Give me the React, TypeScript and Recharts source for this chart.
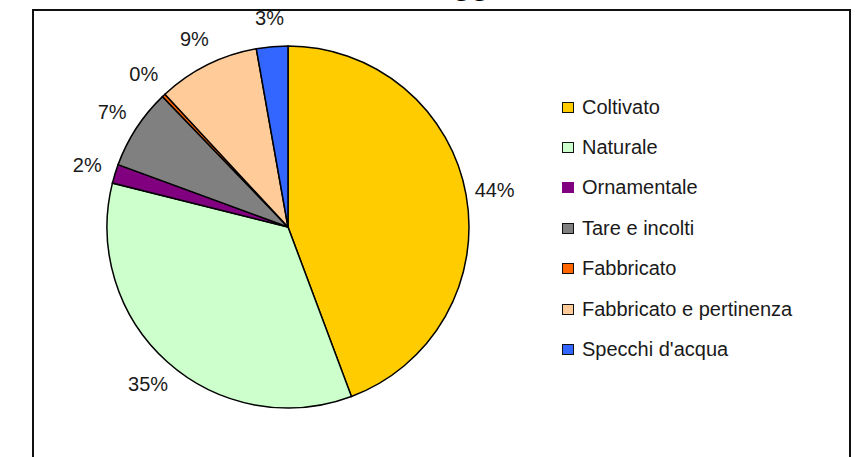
import { PieChart, Pie, Cell, Legend } from 'recharts';

const categories = [
  'Coltivato',
  'Naturale',
  'Ornamentale',
  'Tare e incolti',
  'Fabbricato',
  'Fabbricato e pertinenza',
  "Specchi d'acqua",
];
const shares = [44.3, 34.6, 1.7, 7.2, 0.3, 9.1, 2.8];
const colors = ['#FFCC00', '#CCFFCC', '#800080', '#808080', '#FF6600', '#FFCC99', '#3366FF'];
const title = 'Paesaggio';

const data = categories.map((name, i) => ({ name, value: shares[i] }));

const RAD = Math.PI / 180;
const FONT = '"Liberation Sans", Arial, sans-serif';

function renderLabel(props: any) {
  const { cx, cy, midAngle, outerRadius, percent } = props;
  const r = outerRadius + 29;
  const x = cx + r * Math.cos(-midAngle * RAD);
  const y = cy + r * Math.sin(-midAngle * RAD);
  return (
    <text x={x} y={y} textAnchor="middle" dominantBaseline="central" fontSize={20} fill="#1a1a1a" fontFamily={FONT}>
      {`${Math.round(percent * 100)}%`}
    </text>
  );
}

function LegendBox() {
  return (
    <div style={{ fontFamily: FONT, fontSize: 20, color: '#1a1a1a' }}>
      {categories.map((name, i) => (
        <div key={name} style={{ height: 40.4, display: 'flex', alignItems: 'center' }}>
          <span
            style={{
              display: 'inline-block',
              boxSizing: 'border-box',
              width: 12,
              height: 11,
              background: colors[i],
              border: i === 2 ? `1px solid ${colors[i]}` : '1.5px solid #111',
              marginRight: 8,
            }}
          />
          <span>{name}</span>
        </div>
      ))}
    </div>
  );
}

export default function App() {
  return (
    <div style={{ position: 'absolute', left: 0, top: 0, width: 864, height: 457, overflow: 'hidden', background: '#fff', fontFamily: FONT }}>
      <div
        style={{
          position: 'absolute',
          left: 0,
          top: -32,
          width: 882,
          textAlign: 'center',
          fontSize: 30,
          fontWeight: 'bold',
          color: '#000',
        }}
      >
        {title}
      </div>
      <div
        style={{
          position: 'absolute',
          left: 32,
          top: 9,
          width: 815,
          height: 500,
          border: '2.5px solid #111',
        }}
      />
      <div style={{ position: 'absolute', left: 0, top: 0 }}>
        <PieChart width={864} height={457} margin={{ top: 0, right: 0, bottom: 0, left: 0 }}>
          <Pie
            data={data}
            dataKey="value"
            nameKey="name"
            cx={288}
            cy={227}
            outerRadius={181}
            startAngle={90}
            endAngle={-270}
            stroke="#000"
            strokeWidth={1.5}
            label={renderLabel}
            labelLine={false}
            isAnimationActive={false}
          >
            {data.map((d, i) => (
              <Cell key={d.name} fill={colors[i]} />
            ))}
          </Pie>
          <Legend
            layout="vertical"
            content={() => <LegendBox />}
            wrapperStyle={{ position: 'absolute', left: 562, top: 87, width: 290 }}
          />
        </PieChart>
      </div>
    </div>
  );
}
